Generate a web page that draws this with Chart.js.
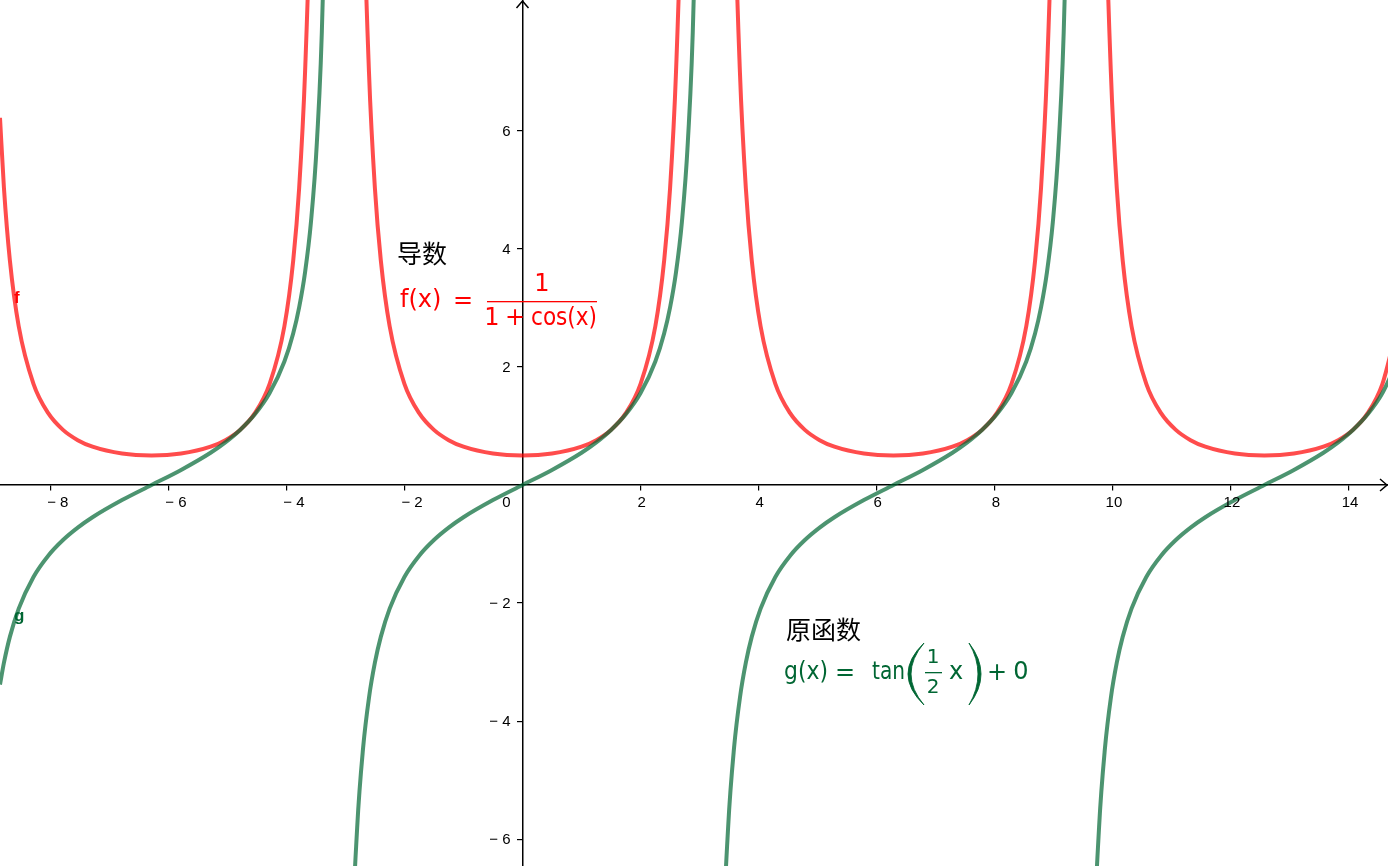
<!DOCTYPE html>
<html>
<head>
<meta charset="utf-8">
<script src="https://cdn.jsdelivr.net/npm/chart.js@4.4.1/dist/chart.umd.min.js"></script>
<style>
  html, body { margin: 0; padding: 0; background: #fff; }
  #wrap { width: 1388px; height: 866px; position: relative; }
</style>
</head>
<body>
<div id="wrap"><canvas id="plot"></canvas></div>
<script>
// sample x positions, one branch per period, null rows mark the asymptotes
const xs = [
  -8.85, -8.783, -8.683, -8.533, -8.283, -8.033, -7.783, -7.533, -7.283, -6.783, -6.283, -5.783, -5.283,
  -5.033, -4.783, -4.533, -4.283, -4.033, -3.883, -3.783, -3.683, -3.583, -3.483, -3.383, -3.283,
  -3.142,
  -3.0, -2.9, -2.8, -2.7, -2.6, -2.5, -2.4, -2.25, -2.0, -1.75, -1.5, -1.25, -1.0, -0.5, 0,
  0.5, 1.0, 1.25, 1.5, 1.75, 2.0, 2.25, 2.4, 2.5, 2.6, 2.7, 2.8, 2.9, 3.0,
  3.142,
  3.283, 3.383, 3.483, 3.583, 3.683, 3.783, 3.883, 4.033, 4.283, 4.533, 4.783, 5.033, 5.283, 5.783, 6.283,
  6.783, 7.283, 7.533, 7.783, 8.033, 8.283, 8.533, 8.683, 8.783, 8.883, 8.983, 9.083, 9.183, 9.283,
  9.425,
  9.566, 9.666, 9.766, 9.866, 9.966, 10.066, 10.166, 10.316, 10.566, 10.816, 11.066, 11.316, 11.566,
  12.066, 12.566, 13.066, 13.566, 13.816, 14.066, 14.316, 14.566, 14.816
];

// f(x) = 1 / (1 + cos x)
const fVals = [
  6.22, 5.029, 3.808, 2.689, 1.713, 1.217, 0.934, 0.760, 0.649, 0.533, 0.500, 0.533, 0.649,
  0.760, 0.934, 1.217, 1.713, 2.689, 3.808, 5.029, 6.988, 10.42, 17.31, 34.43, 99.9,
  null,
  99.9, 34.43, 17.31, 10.42, 6.988, 5.029, 3.808, 2.689, 1.713, 1.217, 0.934, 0.760, 0.649, 0.533, 0.500,
  0.533, 0.649, 0.760, 0.934, 1.217, 1.713, 2.689, 3.808, 5.029, 6.988, 10.42, 17.31, 34.43, 99.9,
  null,
  99.9, 34.43, 17.31, 10.42, 6.988, 5.029, 3.808, 2.689, 1.713, 1.217, 0.934, 0.760, 0.649, 0.533, 0.500,
  0.533, 0.649, 0.760, 0.934, 1.217, 1.713, 2.689, 3.808, 5.029, 6.988, 10.42, 17.31, 34.43, 99.9,
  null,
  99.9, 34.43, 17.31, 10.42, 6.988, 5.029, 3.808, 2.689, 1.713, 1.217, 0.934, 0.760, 0.649,
  0.533, 0.500, 0.533, 0.649, 0.760, 0.934, 1.217, 1.713, 2.689
];

// g(x) = tan(x / 2)
const gVals = [
  -3.38, -3.010, -2.572, -2.093, -1.557, -1.197, -0.932, -0.722, -0.546, -0.255, 0, 0.255, 0.546,
  0.722, 0.932, 1.197, 1.557, 2.093, 2.572, 3.010, 3.602, 4.455, 5.798, 8.238, 14.10,
  null,
  -14.10, -8.238, -5.798, -4.455, -3.602, -3.010, -2.572, -2.093, -1.557, -1.197, -0.932, -0.722, -0.546, -0.255, 0,
  0.255, 0.546, 0.722, 0.932, 1.197, 1.557, 2.093, 2.572, 3.010, 3.602, 4.455, 5.798, 8.238, 14.10,
  null,
  -14.10, -8.238, -5.798, -4.455, -3.602, -3.010, -2.572, -2.093, -1.557, -1.197, -0.932, -0.722, -0.546, -0.255, 0,
  0.255, 0.546, 0.722, 0.932, 1.197, 1.557, 2.093, 2.572, 3.010, 3.602, 4.455, 5.798, 8.238, 14.10,
  null,
  -14.10, -8.238, -5.798, -4.455, -3.602, -3.010, -2.572, -2.093, -1.557, -1.197, -0.932, -0.722, -0.546,
  -0.255, 0, 0.255, 0.546, 0.722, 0.932, 1.197, 1.557, 2.093
];

const xTickValues = [-8, -6, -4, -2, 0, 2, 4, 6, 8, 10, 12, 14];
const yTickValues = [-6, -4, -2, 2, 4, 6];

const RED = 'rgba(255, 0, 0, 0.7)';
const GREEN = 'rgba(0, 102, 51, 0.7)';
const RED_TEXT = '#ff0000';
const GREEN_TEXT = '#006633';

const tickFont = '15px "Liberation Sans", Arial, sans-serif';
const mathFont = size => size + 'px "DejaVu Sans", sans-serif';
const cjkFont = '25px "Noto Sans CJK SC", sans-serif';

function fmt(v) {
  return v < 0 ? '\u2212 ' + Math.abs(v) : String(v);
}

function txt(ctx, s, x, y, font, color, align, maxW) {
  ctx.font = font;
  ctx.fillStyle = color;
  ctx.textAlign = align || 'left';
  ctx.textBaseline = 'middle';
  if (maxW) ctx.fillText(s, x, y, maxW);
  else ctx.fillText(s, x, y);
}

function paren(ctx, xTip, xOuter, xInner, top, bottom) {
  const mid = (top + bottom) / 2;
  ctx.beginPath();
  ctx.moveTo(xTip, top);
  ctx.quadraticCurveTo(xOuter, mid, xTip, bottom);
  ctx.quadraticCurveTo(xInner, mid, xTip, top);
  ctx.fill();
  ctx.stroke();
}

const overlay = {
  id: 'overlay',
  afterDraw(chart) {
    const { ctx, chartArea, scales: { x, y } } = chart;
    const ox = x.getPixelForValue(0);
    const oy = y.getPixelForValue(0);
    ctx.save();

    // arrow heads
    ctx.strokeStyle = '#000';
    ctx.lineWidth = 1.5;
    ctx.beginPath();
    ctx.moveTo(chartArea.right - 8, oy - 6);
    ctx.lineTo(chartArea.right - 1, oy);
    ctx.lineTo(chartArea.right - 8, oy + 6);
    ctx.moveTo(ox - 6, chartArea.top + 8);
    ctx.lineTo(ox, chartArea.top + 1);
    ctx.lineTo(ox + 6, chartArea.top + 8);
    ctx.stroke();

    // tick labels
    x.ticks.forEach(t => {
      if (t.value === 0) return;
      const px = x.getPixelForValue(t.value);
      if (t.value < 0) txt(ctx, fmt(t.value), px - 3, oy + 18, tickFont, '#000', 'left');
      else txt(ctx, fmt(t.value), px + 1, oy + 18, tickFont, '#000', 'center');
    });
    txt(ctx, '0', ox - 16, oy + 18, tickFont, '#000', 'center');
    y.ticks.forEach(t => {
      txt(ctx, fmt(t.value), ox - 12, y.getPixelForValue(t.value) + 1, tickFont, '#000', 'right');
    });

    // curve names
    txt(ctx, 'f', 14, 298, 'bold 17px "Liberation Sans", sans-serif', RED_TEXT, 'left');
    txt(ctx, 'g', 14, 616, 'bold 17px "Liberation Sans", sans-serif', GREEN_TEXT, 'left');

    // derivative caption
    txt(ctx, '导数', 397, 253, cjkFont, '#000', 'left');
    txt(ctx, 'f(x)', 400, 301, mathFont(24), RED_TEXT, 'left', 42);
    txt(ctx, '=', 463, 302, mathFont(24), RED_TEXT, 'center');
    txt(ctx, '1', 542, 285, mathFont(24), RED_TEXT, 'center');
    ctx.fillStyle = RED_TEXT;
    ctx.fillRect(487, 301, 110, 1.3);
    txt(ctx, '1', 492, 319, mathFont(24), RED_TEXT, 'center');
    txt(ctx, '+', 515, 319, mathFont(24), RED_TEXT, 'center');
    txt(ctx, 'cos(x)', 531, 319, mathFont(24), RED_TEXT, 'left', 66);

    // antiderivative caption
    txt(ctx, '原函数', 786, 629, cjkFont, '#000', 'left');
    txt(ctx, 'g(x)', 784, 673, mathFont(24), GREEN_TEXT, 'left', 44);
    txt(ctx, '=', 845, 674, mathFont(24), GREEN_TEXT, 'center');
    txt(ctx, 'tan', 872, 673, mathFont(24), GREEN_TEXT, 'left', 33);
    ctx.fillStyle = GREEN_TEXT;
    ctx.strokeStyle = GREEN_TEXT;
    ctx.lineWidth = 0.9;
    paren(ctx, 924, 892, 898, 643, 705);
    paren(ctx, 969, 993, 987, 643, 705);
    txt(ctx, '1', 933, 658, mathFont(20), GREEN_TEXT, 'center');
    ctx.fillStyle = GREEN_TEXT;
    ctx.fillRect(925, 672, 17, 1.3);
    txt(ctx, '2', 933, 688, mathFont(20), GREEN_TEXT, 'center');
    txt(ctx, 'x', 956, 673, mathFont(24), GREEN_TEXT, 'center');
    txt(ctx, '+', 997, 674, mathFont(24), GREEN_TEXT, 'center');
    txt(ctx, '0', 1021, 673, mathFont(24), GREEN_TEXT, 'center');

    ctx.restore();
  }
};

const tickColor = ctx => (ctx.tick && ctx.tick.value === 0 ? 'rgba(0,0,0,0)' : '#000');

new Chart(document.getElementById('plot'), {
  type: 'line',
  data: {
    datasets: [
      {
        label: 'f',
        data: xs.map((v, i) => ({ x: v, y: fVals[i] })),
        borderColor: RED,
        borderWidth: 4,
        pointRadius: 0,
        cubicInterpolationMode: 'monotone',
        spanGaps: false,
        order: 2
      },
      {
        label: 'g',
        data: xs.map((v, i) => ({ x: v, y: gVals[i] })),
        borderColor: GREEN,
        borderWidth: 4,
        pointRadius: 0,
        cubicInterpolationMode: 'monotone',
        spanGaps: false,
        order: 1
      }
    ]
  },
  options: {
    responsive: true,
    maintainAspectRatio: false,
    animation: false,
    layout: { padding: 0 },
    plugins: {
      legend: { display: false },
      tooltip: { enabled: false }
    },
    scales: {
      x: {
        type: 'linear',
        position: { y: 0 },
        min: -8.85,
        max: 14.66,
        afterBuildTicks: s => { s.ticks = xTickValues.map(v => ({ value: v })); },
        ticks: { display: false },
        grid: { drawOnChartArea: false, drawTicks: true, tickLength: 5, color: tickColor, lineWidth: 1.2 },
        border: { display: true, color: '#000', width: 1.5 }
      },
      y: {
        type: 'linear',
        position: { x: 0 },
        min: -6.453,
        max: 8.215,
        afterBuildTicks: s => { s.ticks = yTickValues.map(v => ({ value: v })); },
        ticks: { display: false },
        grid: { drawOnChartArea: false, drawTicks: true, tickLength: 5, color: tickColor, lineWidth: 1.2 },
        border: { display: true, color: '#000', width: 1.5 }
      }
    }
  },
  plugins: [overlay]
});
</script>
</body>
</html>
